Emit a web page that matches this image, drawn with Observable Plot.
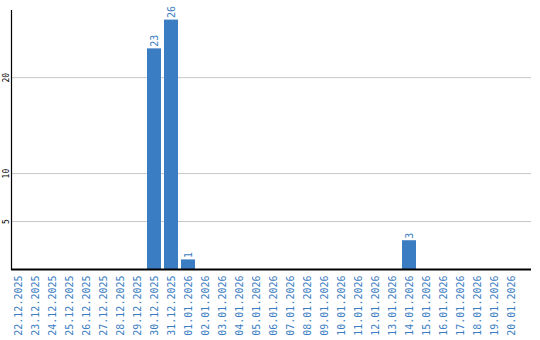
<!DOCTYPE html>
<html>
<head>
<meta charset="utf-8">
<script src="https://cdn.jsdelivr.net/npm/d3@7"></script>
<script src="https://cdn.jsdelivr.net/npm/@observablehq/plot@0.6"></script>
<style>
  html, body { margin: 0; padding: 0; background: #fff; }
  svg { display: block; }
</style>
</head>
<body>
<div id="chart"></div>
<script>
const dates = [
  "22.12.2025","23.12.2025","24.12.2025","25.12.2025","26.12.2025","27.12.2025",
  "28.12.2025","29.12.2025","30.12.2025","31.12.2025","01.01.2026","02.01.2026",
  "03.01.2026","04.01.2026","05.01.2026","06.01.2026","07.01.2026","08.01.2026",
  "09.01.2026","10.01.2026","11.01.2026","12.01.2026","13.01.2026","14.01.2026",
  "15.01.2026","16.01.2026","17.01.2026","18.01.2026","19.01.2026","20.01.2026"
];
const values = [0,0,0,0,0,0,0,0,23,26,1,0,0,0,0,0,0,0,0,0,0,0,0,3,0,0,0,0,0,0];
const yTicks = [5, 10, 20];

const data = dates.map((d, i) => ({date: d, value: values[i]}));
const blue = "#3b7dc2";
const mono = "'DejaVu Sans Mono', monospace";

const chart = Plot.plot({
  width: 540,
  height: 340,
  marginLeft: 11,
  marginRight: 9,
  marginTop: 10,
  marginBottom: 71,
  style: {fontFamily: mono, background: "#fff"},
  x: {domain: dates, paddingInner: 3/17, paddingOuter: 0.382, align: 0, label: null},
  y: {domain: [0, 27], label: null},
  marks: [
    Plot.ruleY(yTicks, {stroke: "#c8c8c8", strokeWidth: 1}),
    Plot.barY(data.filter(d => d.value > 0), {x: "date", y: "value", fill: blue}),
    Plot.text(data.filter(d => d.value > 0), {
      x: "date", y: "value", text: d => String(d.value),
      rotate: -90, textAnchor: "start", dy: -2, fill: blue,
      fontSize: 10, fontFamily: mono
    }),
    Plot.axisX({
      tickRotate: -90, tickSize: 0, tickPadding: 6, color: blue,
      fontSize: 10, fontFamily: mono, label: null
    }),
    Plot.axisY({
      ticks: yTicks, tickRotate: -90, tickSize: 0, tickPadding: 3,
      fontSize: 8, fontFamily: mono, color: "#000", label: null
    }),
    Plot.ruleY([0], {stroke: "#000", strokeWidth: 2}),
    Plot.frame({anchor: "left", stroke: "#000", strokeWidth: 1.2})
  ]
});
document.getElementById("chart").appendChild(chart);
</script>
</body>
</html>
